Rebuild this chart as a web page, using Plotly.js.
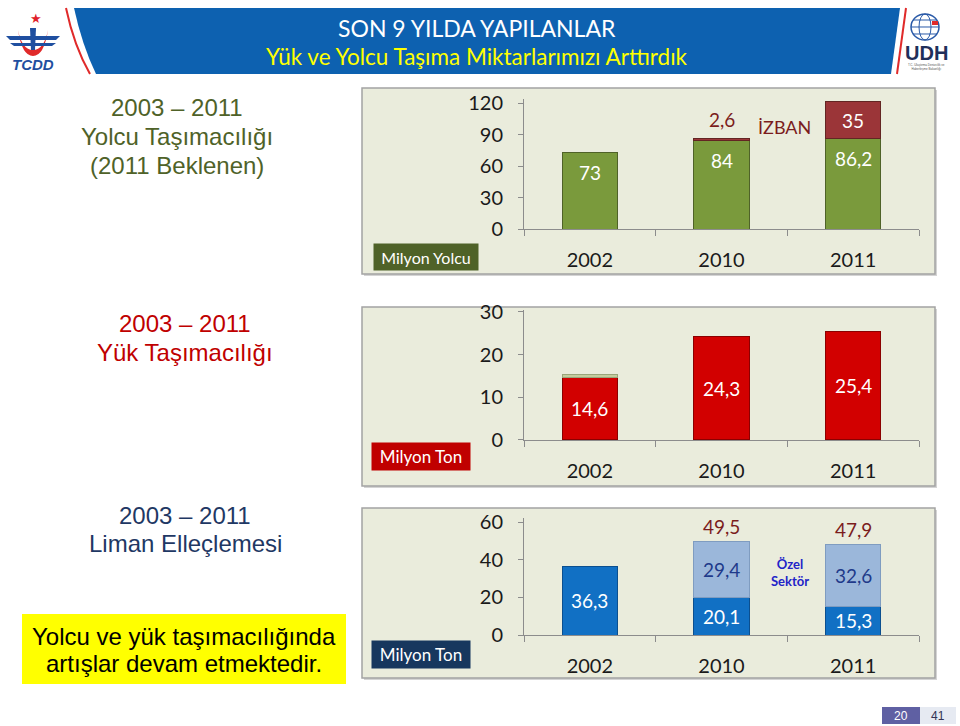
<!DOCTYPE html>
<html><head><meta charset="utf-8">
<script src="https://cdn.plot.ly/plotly-3.0.1.min.js"></script>
<style>html,body{margin:0;padding:0;background:#fff;} #chart{width:960px;height:726px;}</style>
</head><body><div id="chart"></div>
<script>
// ---- data ----
const years = ['2002', '2010', '2011'];
const yolcuTCDD = [73, 84, 86.2];
const yolcuIZBAN = [0, 2.6, 35];
const yukTCDD = [14.6, 24.3, 25.4];
const yukCap = [0.7, 0, 0];
const limanTCDD = [36.3, 20.1, 15.3];
const limanOzel = [0, 29.4, 32.6];
const yolcuTicks = [0, 30, 60, 90, 120];
const yukTicks = [0, 10, 20, 30];
const limanTicks = [0, 20, 40, 60];

// ---- helpers ----
const W = 960, H = 726;
const X = p => p / W;
const Y = p => 1 - p / H;
const fmt = v => String(v).replace('.', ',');
const FONT = 'Lato, "Open Sans", sans-serif';
const ARIAL = '"Liberation Sans", Arial, sans-serif';

function bar(y, xa, ya, color, line, name) {
  return { type: 'bar', x: years, y: y.map(v => (v === 0 ? null : v)), xaxis: xa, yaxis: ya, name: name,
    marker: { color: color, line: { color: line, width: 1 } }, hoverinfo: 'skip' };
}
const traces = [
  bar(yolcuTCDD, 'x', 'y', '#7a9a3c', '#4f6228', 'TCDD'),
  bar(yolcuIZBAN, 'x', 'y', '#9b3538', '#632523', 'İZBAN'),
  bar(yukTCDD, 'x2', 'y2', '#d20000', '#8b0000', 'Yük'),
  bar(yukCap, 'x2', 'y2', '#c4cc9e', '#9aa57a', 'Yük2'),
  bar(limanTCDD, 'x3', 'y3', '#1170c4', '#0b4f8f', 'TCDD Liman'),
  bar(limanOzel, 'x3', 'y3', '#9bb7da', '#7f9cc0', 'Özel Sektör')
];

function xax(dom, anchor) {
  return { domain: dom, anchor: anchor, type: 'category', range: [-0.5, 2.5], showline: true, linecolor: '#8c8c8c',
    ticks: 'outside', tickson: 'boundaries', ticklen: 6, tickcolor: '#8c8c8c',
    tickfont: { family: FONT, size: 20, color: '#1a1a1a' }, ticklabelstandoff: 13,
    showgrid: false, zeroline: false, fixedrange: true };
}
function yax(dom, range, tv, anchor) {
  return { domain: dom, anchor: anchor, range: range, tickvals: tv, showline: true, linecolor: '#8c8c8c',
    ticks: 'outside', ticklen: 5, tickcolor: '#8c8c8c',
    tickfont: { family: FONT, size: 20, color: '#1a1a1a' }, ticklabelstandoff: 11,
    showgrid: false, zeroline: false, fixedrange: true };
}

const xd = [X(524), X(919)];
const annotations = [];
function ann(o) { annotations.push(Object.assign({ showarrow: false, xanchor: 'center', yanchor: 'middle' }, o)); }

// panel 1 labels (x = category index)
years.forEach((c, i) => {
  ann({ xref: 'x', yref: 'y', x: i, y: yolcuTCDD[i] - 19, text: fmt(yolcuTCDD[i]), font: { family: FONT, size: 19, color: '#ffffff' } });
  const v = yolcuIZBAN[i];
  if (v > 0) {
    if (v >= 5) ann({ xref: 'x', yref: 'y', x: i, y: yolcuTCDD[i] + v / 2, text: fmt(v), font: { family: FONT, size: 19, color: '#ffffff' } });
    else ann({ xref: 'x', yref: 'y', x: i, y: yolcuTCDD[i] + v, yshift: 19, text: fmt(v), font: { family: FONT, size: 19, color: '#7b1c1c' } });
  }
});
ann({ xref: 'paper', yref: 'paper', x: X(784), y: Y(127), text: 'İZBAN', font: { family: FONT, size: 18, color: '#7b1c1c' } });

// panel 2 labels
years.forEach((c, i) => {
  ann({ xref: 'x2', yref: 'y2', x: i, y: yukTCDD[i] / 2, text: fmt(yukTCDD[i]), font: { family: FONT, size: 19, color: '#ffffff' } });
});

// panel 3 labels
years.forEach((c, i) => {
  ann({ xref: 'x3', yref: 'y3', x: i, y: limanTCDD[i] / 2, text: fmt(limanTCDD[i]), font: { family: FONT, size: 19, color: '#ffffff' } });
  const o = limanOzel[i];
  if (o > 0) {
    ann({ xref: 'x3', yref: 'y3', x: i, y: limanTCDD[i] + o / 2, text: fmt(o), font: { family: FONT, size: 19, color: '#1f3a8a' } });
    const tot = Math.round((limanTCDD[i] + o) * 10) / 10;
    ann({ xref: 'x3', yref: 'y3', x: i, y: tot, yshift: 15, text: fmt(tot), font: { family: FONT, size: 19, color: '#7b1c1c' } });
  }
});
ann({ xref: 'paper', yref: 'paper', x: X(790), y: Y(572), text: '<b>Özel<br>Sektör</b>', font: { family: FONT, size: 13, color: '#2323c8' } });

// unit boxes
ann({ xref: 'paper', yref: 'paper', x: X(426), y: Y(257), text: 'Milyon Yolcu', bgcolor: '#4f6228', width: 102, height: 24, font: { family: FONT, size: 16, color: '#ffffff' } });
ann({ xref: 'paper', yref: 'paper', x: X(421), y: Y(456), text: 'Milyon Ton', bgcolor: '#c00000', width: 96, height: 25, font: { family: FONT, size: 17, color: '#ffffff' } });
ann({ xref: 'paper', yref: 'paper', x: X(421), y: Y(654), text: 'Milyon Ton', bgcolor: '#17375e', width: 96, height: 25, font: { family: FONT, size: 17, color: '#ffffff' } });

// left texts
function left(x, y, text, color) { ann({ xref: 'paper', yref: 'paper', x: X(x), y: Y(y), text: text, font: { family: ARIAL, size: 24, color: color } }); }
left(177, 108, '2003 – 2011', '#4f6228');
left(177, 137, 'Yolcu Taşımacılığı', '#4f6228');
left(177, 165, '(2011 Beklenen)', '#4f6228');
left(185, 323, '2003 – 2011', '#c00000');
left(185, 352, 'Yük Taşımacılığı', '#c00000');
left(185, 515, '2003 – 2011', '#1f3864');
left(185, 543, 'Liman Elleçlemesi', '#1f3864');
ann({ xref: 'paper', yref: 'paper', x: X(184), y: Y(636), text: 'Yolcu ve yük taşımacılığında', font: { family: ARIAL, size: 24, color: '#000' } });
ann({ xref: 'paper', yref: 'paper', x: X(184), y: Y(663), text: 'artışlar devam etmektedir.', font: { family: ARIAL, size: 24, color: '#000' } });

// header texts
ann({ xref: 'paper', yref: 'paper', x: X(477), y: Y(28), text: 'SON 9 YILDA YAPILANLAR', font: { family: FONT, size: 23, color: '#ffffff' } });
ann({ xref: 'paper', yref: 'paper', x: X(477), y: Y(57), text: 'Yük ve Yolcu Taşıma Miktarlarımızı Arttırdık', font: { family: FONT, size: 22.5, color: '#ffff00' } });

// logos text
ann({ xref: 'paper', yref: 'paper', x: X(33), y: Y(64), text: '<b><i>TCDD</i></b>', font: { family: ARIAL, size: 15, color: '#1f4fa0' } });
ann({ xref: 'paper', yref: 'paper', x: X(36), y: Y(19), text: '★', font: { family: '"DejaVu Sans"', size: 13, color: '#e0202a' } });
ann({ xref: 'paper', yref: 'paper', x: X(926), y: Y(53), text: '<b>UDH</b>', font: { family: '"Liberation Sans Narrow", Arial', size: 20, color: '#1f2f5a' } });
ann({ xref: 'paper', yref: 'paper', x: X(926), y: Y(67), text: 'T.C. Ulaştırma Denizcilik ve<br>Haberleşme Bakanlığı', font: { family: ARIAL, size: 3, color: '#555' } });

// footer
ann({ xref: 'paper', yref: 'paper', x: X(901), y: Y(715.5), text: '20', font: { family: ARIAL, size: 12, color: '#ffffff' } });
ann({ xref: 'paper', yref: 'paper', x: X(938), y: Y(715.5), text: '41', font: { family: ARIAL, size: 12, color: '#333355' } });

// ---- shapes ----
const shapes = [];
function rectPx(x0, y0, x1, y1, fill, line, lw, layer) {
  shapes.push({ type: 'rect', xref: 'paper', yref: 'paper', x0: X(x0), x1: X(x1), y0: Y(y1), y1: Y(y0),
    fillcolor: fill, line: { color: line || 'rgba(0,0,0,0)', width: lw || 0 }, layer: layer || 'below' });
}
function pathPx(pts, fill, line, lw, layer) {
  const d = pts.replace(/(-?\d+\.?\d*),(-?\d+\.?\d*)/g, (m, a, b) => X(+a).toFixed(5) + ',' + Y(+b).toFixed(5));
  shapes.push({ type: 'path', xref: 'paper', yref: 'paper', path: d, fillcolor: fill || 'rgba(0,0,0,0)',
    line: { color: line || 'rgba(0,0,0,0)', width: lw || 0 }, layer: layer || 'below' });
}
// panels
[[88, 274], [307, 486], [508, 678]].forEach(([a, b]) => {
  rectPx(364, a + 2, 937, b + 2, '#d4d4d4', null, 0);
  rectPx(362, a, 935, b, '#eaecdc', '#a3a3a3', 1.5);
});
// yellow note box
rectPx(22, 614, 346, 684, '#ffff00', null, 0);
// header banner
pathPx('M 74,8 L 900,8 L 891,74 L 96,74 Q 82,45 74,8 Z', '#0d61b0', null, 0);
pathPx('M 66,8 Q 74,46 90,74', null, '#e02a2a', 2);
pathPx('M 70,8 Q 78,46 93,74', null, '#ffffff', 1.5);
pathPx('M 906,8 L 897,74', null, '#e02a2a', 2);
pathPx('M 902,8 L 894,74', null, '#ffffff', 1);
// TCDD emblem
pathPx('M 18,30 Q 22,56 33,56 Q 44,56 48,30 Q 44,50 33,50 Q 22,50 18,30 Z', '#e02a2a', null, 0);
pathPx('M 6,36 L 60,36 L 56,40 L 10,40 Z', '#1f4fa0', null, 0);
pathPx('M 10,43 L 56,43 L 52,46 L 14,46 Z', '#1f4fa0', null, 0);
pathPx('M 30,28 L 36,28 L 35,50 L 31,50 Z', '#1f4fa0', null, 0);
// UDH globe
shapes.push({ type: 'circle', xref: 'paper', yref: 'paper', x0: X(911), x1: X(939), y0: Y(40), y1: Y(14), line: { color: '#2a5aa8', width: 1.5 }, fillcolor: 'rgba(0,0,0,0)', layer: 'below' });
shapes.push({ type: 'circle', xref: 'paper', yref: 'paper', x0: X(919), x1: X(931), y0: Y(40), y1: Y(14), line: { color: '#2a5aa8', width: 1 }, fillcolor: 'rgba(0,0,0,0)', layer: 'below' });
pathPx('M 911,27 L 939,27', null, '#2a5aa8', 1);
pathPx('M 913,20 L 937,20', null, '#2a5aa8', 1);
pathPx('M 913,34 L 937,34', null, '#2a5aa8', 1);
rectPx(932, 21, 938, 25, '#e02a2a', null, 0);
// footer boxes
rectPx(882, 707, 920, 724, '#5f60a3', null, 0);
rectPx(920, 707, 956, 724, '#e6eaf2', null, 0);

const layout = {
  width: W, height: H, margin: { l: 0, r: 0, t: 0, b: 0 },
  paper_bgcolor: '#ffffff', plot_bgcolor: 'rgba(0,0,0,0)',
  showlegend: false, barmode: 'stack', bargap: 0.58,
  xaxis: xax(xd, 'y'),
  yaxis: yax([Y(229), Y(229 - 124 * 1.05)], [0, 124], yolcuTicks, 'x'),
  xaxis2: xax(xd, 'y2'),
  yaxis2: yax([Y(440), Y(440 - 30.5 * 4.267)], [0, 30.5], yukTicks, 'x2'),
  xaxis3: xax(xd, 'y3'),
  yaxis3: yax([Y(635), Y(635 - 62 * 1.883)], [0, 62], limanTicks, 'x3'),
  annotations: annotations, shapes: shapes
};
Plotly.newPlot('chart', traces, layout, { staticPlot: true, displayModeBar: false });
</script></body></html>
